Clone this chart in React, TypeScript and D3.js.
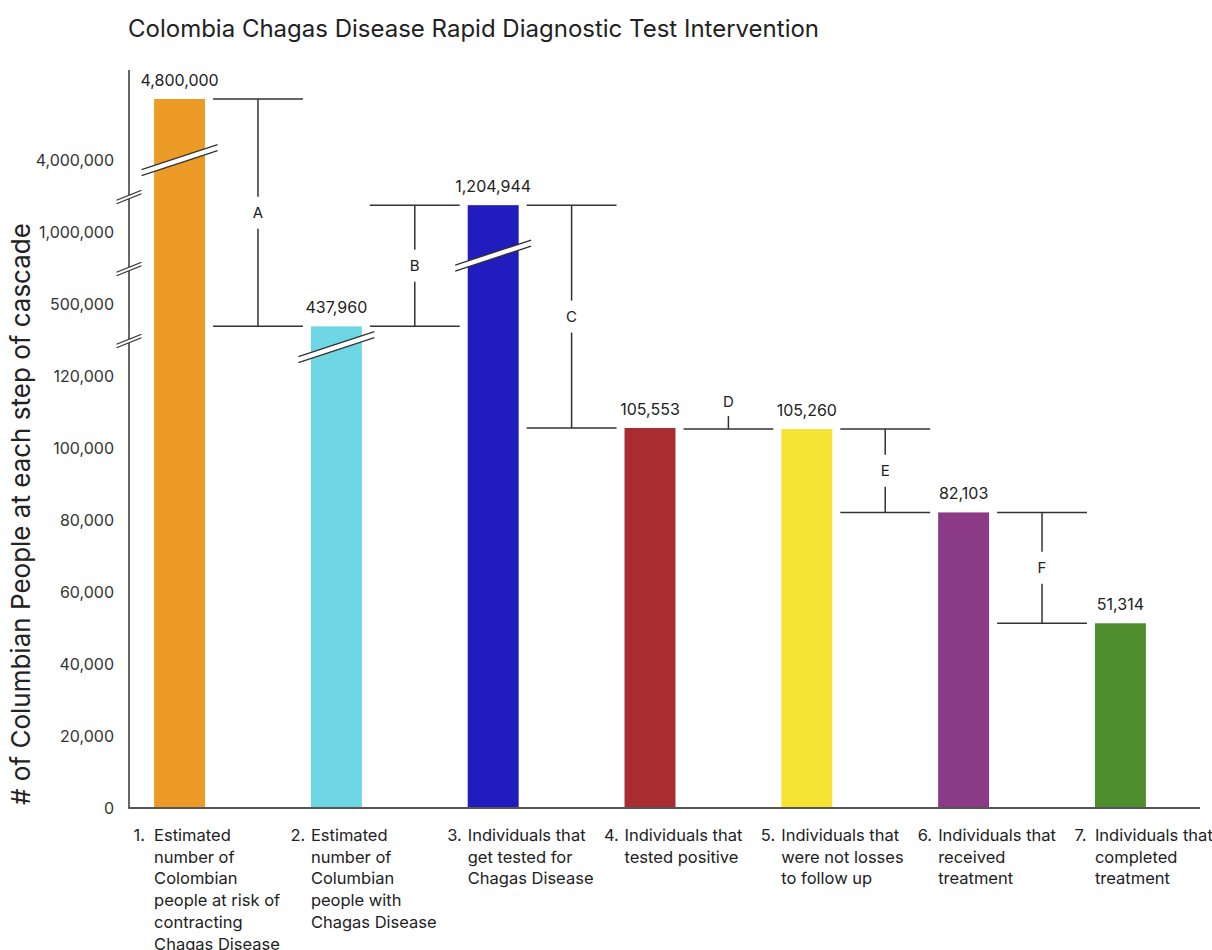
import React from 'react';
import * as d3 from 'd3';

const title = 'Colombia Chagas Disease Rapid Diagnostic Test Intervention';
const yAxisTitle = '# of Columbian People at each step of cascade';

const categories = ['1', '2', '3', '4', '5', '6', '7'];
const categoryLines: string[][] = [
  ['Estimated', 'number of', 'Colombian', 'people at risk of', 'contracting', 'Chagas Disease'],
  ['Estimated', 'number of', 'Columbian', 'people with', 'Chagas Disease'],
  ['Individuals that', 'get tested for', 'Chagas Disease'],
  ['Individuals that', 'tested positive'],
  ['Individuals that', 'were not losses', 'to follow up'],
  ['Individuals that', 'received', 'treatment'],
  ['Individuals that', 'completed', 'treatment'],
];
const values = [4800000, 437960, 1204944, 105553, 105260, 82103, 51314];
const colors = ['#EC9C26', '#6FD7E3', '#201CBD', '#A92D30', '#F5E334', '#8B3A85', '#4F8E2F'];
const bracketLabels = ['A', 'B', 'C', 'D', 'E', 'F'];
const tickValues = [0, 20000, 40000, 60000, 80000, 100000, 120000, 500000, 1000000, 4000000];
const barBreakValues: (number | null)[] = [4000000, 128000, 820000, null, null, null, null];

// broken axis: each segment maps a value range onto a band of equally spaced tick slots
const segmentDomains = [
  [0, 130000],
  [400000, 600000],
  [725000, 1275000],
  [3530000, 5180000],
];
const segmentSlots = [
  [0, 6.5],
  [6.5, 7.5],
  [7.5, 8.5],
  [8.5, 10.25],
];

const W = 1212;
const H = 950;
const axisX = 129;
const baseY = 808;
const topY = 70;

const slotScale = d3.scaleLinear().domain([0, 10.25]).range([baseY, topY]);
const segScales = segmentDomains.map((d, i) => d3.scaleLinear().domain(d).range(segmentSlots[i]));
const yScale = (v: number) => {
  let idx = segmentDomains.findIndex((d) => v <= d[1]);
  if (idx < 0) idx = segmentDomains.length - 1;
  return slotScale(segScales[idx](v));
};

const xScale = d3
  .scaleBand<string>()
  .domain(categories)
  .range([axisX, 1171])
  .paddingInner(0.675)
  .paddingOuter(0.16);

const fmt = d3.format(',');
const FONT = 'Inter, "Noto Sans", sans-serif';
const ink = '#222';
const lineInk = '#333';

export default function App() {
  const bw = xScale.bandwidth();
  const breakSlots = segmentSlots.slice(1).map((s) => s[0]);

  return (
    <svg
      width={W}
      height={H}
      style={{ position: 'absolute', left: 0, top: 0, background: '#fff' }}
      fontFamily={FONT}
    >
      <rect x={0} y={0} width={W} height={H} fill="#fff" />
      <text x={128} y={28} fontSize={24} fill={ink} dominantBaseline="central">
        {title}
      </text>
      <text
        transform={`translate(20,${514}) rotate(-90)`}
        fontSize={26}
        fill={ink}
        textAnchor="middle"
        dominantBaseline="central"
      >
        {yAxisTitle}
      </text>

      {/* y ticks */}
      {tickValues.map((t) => (
        <text
          key={t}
          x={114}
          y={yScale(t)}
          fontSize={16}
          fill="#333"
          textAnchor="end"
          dominantBaseline="central"
        >
          {fmt(t)}
        </text>
      ))}

      {/* bars */}
      {values.map((v, i) => {
        const x = xScale(categories[i])!;
        const y = yScale(v);
        return (
          <g key={i}>
            <rect x={x} y={y} width={bw} height={baseY - y} fill={colors[i]} />
            <text
              x={x + bw / 2}
              y={y - 19}
              fontSize={16}
              fill={ink}
              textAnchor="middle"
              dominantBaseline="central"
            >
              {fmt(v)}
            </text>
          </g>
        );
      })}

      {/* bar breaks */}
      {barBreakValues.map((bv, i) => {
        if (bv == null) return null;
        const cx = xScale(categories[i])! + bw / 2;
        const cy = yScale(bv);
        const hw = 38;
        const dy = 12.5;
        const g = 3;
        return (
          <g key={'bb' + i}>
            <polygon
              points={`${cx - hw},${cy + dy - g} ${cx + hw},${cy - dy - g} ${cx + hw},${cy - dy + g} ${cx - hw},${cy + dy + g}`}
              fill="#fff"
            />
            <line x1={cx - hw} y1={cy + dy - g} x2={cx + hw} y2={cy - dy - g} stroke={lineInk} strokeWidth={1.3} />
            <line x1={cx - hw} y1={cy + dy + g} x2={cx + hw} y2={cy - dy + g} stroke={lineInk} strokeWidth={1.3} />
          </g>
        );
      })}

      {/* axes */}
      <line x1={axisX} y1={topY} x2={axisX} y2={baseY} stroke={lineInk} strokeWidth={1.5} />
      <line x1={axisX - 0.75} y1={baseY} x2={1200} y2={baseY} stroke="#555" strokeWidth={2} />

      {/* axis breaks */}
      {breakSlots.map((s, i) => {
        const cy = slotScale(s) + 1;
        const hw = 12.5;
        const dy = 5;
        const g = 1.8;
        return (
          <g key={'ab' + i}>
            <polygon
              points={`${axisX - hw},${cy + dy - g} ${axisX + hw},${cy - dy - g} ${axisX + hw},${cy - dy + g} ${axisX - hw},${cy + dy + g}`}
              fill="#fff"
            />
            <line x1={axisX - hw} y1={cy + dy - g} x2={axisX + hw} y2={cy - dy - g} stroke={lineInk} strokeWidth={1.2} />
            <line x1={axisX - hw} y1={cy + dy + g} x2={axisX + hw} y2={cy - dy + g} stroke={lineInk} strokeWidth={1.2} />
          </g>
        );
      })}

      {/* brackets */}
      {bracketLabels.map((lab, i) => {
        const xL = xScale(categories[i])! + bw + 8;
        const xR = xScale(categories[i + 1])! - 8;
        const xm = (xL + xR) / 2;
        const y1 = yScale(values[i]);
        const y2 = yScale(values[i + 1]);
        if (Math.abs(y1 - y2) < 20) {
          const y = Math.max(y1, y2);
          return (
            <g key={lab}>
              <line x1={xL} y1={y} x2={xR} y2={y} stroke={lineInk} strokeWidth={1.5} />
              <line x1={xm} y1={y} x2={xm} y2={y - 13} stroke={lineInk} strokeWidth={1.5} />
              <text x={xm} y={y - 28} fontSize={15} fill={ink} textAnchor="middle" dominantBaseline="central">
                {lab}
              </text>
            </g>
          );
        }
        const top = Math.min(y1, y2);
        const bot = Math.max(y1, y2);
        const ym = (top + bot) / 2;
        return (
          <g key={lab}>
            <line x1={xL} y1={y1} x2={xR} y2={y1} stroke={lineInk} strokeWidth={1.5} />
            <line x1={xL} y1={y2} x2={xR} y2={y2} stroke={lineInk} strokeWidth={1.5} />
            <line x1={xm} y1={top} x2={xm} y2={ym - 16} stroke={lineInk} strokeWidth={1.5} />
            <line x1={xm} y1={ym + 16} x2={xm} y2={bot} stroke={lineInk} strokeWidth={1.5} />
            <text x={xm} y={ym} fontSize={15} fill={ink} textAnchor="middle" dominantBaseline="central">
              {lab}
            </text>
          </g>
        );
      })}

      {/* category labels */}
      {categoryLines.map((lines, i) => {
        const x = xScale(categories[i])!;
        return (
          <g key={'cl' + i} fontSize={16.5} fill={ink}>
            <text x={x - 20.5} y={835} dominantBaseline="central">
              {categories[i] + '.'}
            </text>
            {lines.map((ln, j) => (
              <text key={j} x={x} y={835 + j * 21.7} dominantBaseline="central">
                {ln}
              </text>
            ))}
          </g>
        );
      })}
    </svg>
  );
}
